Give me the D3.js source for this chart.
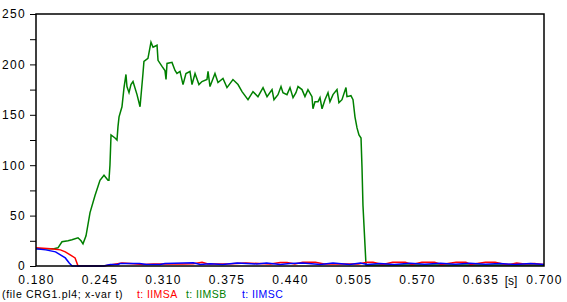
<!DOCTYPE html>
<html>
<head>
<meta charset="utf-8">
<script src="https://cdn.jsdelivr.net/npm/d3@7"></script>
<style>
  body { margin: 0; background: #fff; }
  svg { font-family: "Liberation Sans", Arial, sans-serif; }
</style>
</head>
<body>
<svg id="chart" width="567" height="302"></svg>
<script>
// x ticks (time, s) and y ticks
var xTicks = [0.180, 0.245, 0.310, 0.375, 0.440, 0.505, 0.570, 0.635, 0.700];
var yTicks = [0, 25, 50, 75, 100, 125, 150, 175, 200, 225, 250];
var yLabels = [0, 50, 100, 150, 200, 250];

// t: IIMSB (green)
var bTime = [0.1800, 0.1892, 0.1974, 0.2025, 0.2066, 0.2128, 0.2168, 0.2230, 0.2261, 0.2281,
  0.2312, 0.2353, 0.2404, 0.2455, 0.2496, 0.2537, 0.2547, 0.2557, 0.2568, 0.2609,
  0.2629, 0.2639, 0.2650, 0.2680, 0.2701, 0.2721, 0.2731, 0.2752, 0.2772, 0.2793,
  0.2834, 0.2865, 0.2895, 0.2905, 0.2946, 0.2977, 0.2998, 0.3039, 0.3049, 0.3090,
  0.3120, 0.3131, 0.3141, 0.3192, 0.3223, 0.3243, 0.3274, 0.3305, 0.3335, 0.3376,
  0.3397, 0.3428, 0.3468, 0.3499, 0.3550, 0.3561, 0.3581, 0.3632, 0.3663, 0.3714,
  0.3755, 0.3816, 0.3868, 0.3909, 0.3970, 0.4021, 0.4072, 0.4124, 0.4165, 0.4216,
  0.4236, 0.4277, 0.4308, 0.4328, 0.4369, 0.4400, 0.4431, 0.4461, 0.4482, 0.4523,
  0.4553, 0.4584, 0.4625, 0.4635, 0.4656, 0.4687, 0.4707, 0.4728, 0.4758, 0.4789,
  0.4809, 0.4840, 0.4881, 0.4901, 0.4932, 0.4973, 0.4983, 0.5024, 0.5045, 0.5065,
  0.5086, 0.5106, 0.5127, 0.5137, 0.5147, 0.5168, 0.5178, 0.5219, 0.7000];
var bValue = [17, 17, 17, 18, 24, 25, 26, 28, 25, 22,
  30, 53, 70, 85, 90, 85, 85, 100, 130, 127,
  125, 138, 148, 158, 177, 190, 178, 172, 180, 183,
  170, 158, 191, 203, 206, 222, 217, 219, 204, 198,
  194, 185, 201, 202, 194, 191, 193, 180, 191, 193,
  180, 191, 180, 183, 185, 193, 178, 191, 182, 186,
  177, 185, 180, 173, 165, 173, 168, 177, 168, 175,
  165, 170, 178, 172, 170, 177, 167, 172, 178, 175,
  168, 175, 168, 156, 163, 163, 167, 156, 165, 172,
  163, 170, 175, 162, 165, 177, 168, 169, 165, 148,
  137, 130, 127, 98, 60, 20, 1, 1, 1];

// t: IIMSA (red)
var aTime = [0.180, 0.195, 0.205, 0.210, 0.215, 0.220, 0.223, 0.249, 0.256, 0.268,
  0.276, 0.290, 0.300, 0.330, 0.341, 0.350, 0.356, 0.380, 0.395, 0.420,
  0.430, 0.437, 0.445, 0.453, 0.466, 0.475, 0.510, 0.519, 0.525, 0.535,
  0.545, 0.558, 0.565, 0.575, 0.588, 0.595, 0.610, 0.620, 0.625, 0.640,
  0.650, 0.658, 0.665, 0.672, 0.680, 0.690, 0.700];
var aValue = [18, 17, 16, 14, 11, 8, 0, 0, 1, 3,
  2.5, 1.5, 2, 2, 2.3, 3.7, 2, 2.2, 3, 2,
  3.5, 3.5, 2, 3.7, 3.7, 2, 2, 3.7, 3.7, 1.5,
  3.7, 3.7, 1.5, 3.7, 3.7, 1.5, 3.7, 3.7, 1.5, 3.7,
  3.7, 2, 1.5, 3, 2, 2.5, 1.5];

// t: IIMSC (blue)
var cTime = [0.180, 0.190, 0.200, 0.205, 0.210, 0.214, 0.217, 0.249, 0.256, 0.264,
  0.266, 0.286, 0.293, 0.307, 0.312, 0.341, 0.348, 0.358, 0.371, 0.386,
  0.406, 0.416, 0.430, 0.440, 0.453, 0.471, 0.484, 0.501, 0.512, 0.519,
  0.532, 0.547, 0.563, 0.578, 0.594, 0.609, 0.624, 0.640, 0.655, 0.670,
  0.686, 0.700];
var cValue = [17, 16, 14, 11, 8, 3, 0, 0, 1.5, 1.5,
  2.5, 2.5, 1.5, 1.5, 2.5, 3.2, 1.5, 2.2, 1.5, 3,
  2, 3, 1.5, 2.5, 3, 1.5, 3, 1.5, 3, 1.5,
  2.5, 1.5, 2.8, 1.8, 2.8, 1.8, 2.8, 1.8, 2.5, 1.5,
  2.5, 1.5];

var legendItems = ["t: IIMSA", "t: IIMSB", "t: IIMSC"];
var legendColours = ["#ff0000", "#008000", "#0000ff"];

var svg = d3.select("#chart");

var x = d3.scaleLinear().domain([0.18, 0.70]).range([36, 544]);
var y = d3.scaleLinear().domain([0, 250]).range([266, 14]);

function pairs(t, v) {
    return t.map(function (d, i) { return [d, v[i]]; });
}

var line = d3.line()
    .x(function (d) { return x(d[0]); })
    .y(function (d) { return y(d[1]); });

// y axis ticks and labels
var yAxis = svg.append("g")
    .attr("transform", "translate(36,0)")
    .call(d3.axisLeft(y).tickValues(yTicks).tickSize(6).tickPadding(4)
        .tickFormat(function (d) { return yLabels.indexOf(d) >= 0 ? d : ""; }));
yAxis.select(".domain").remove();
yAxis.selectAll("line").attr("stroke", "#000").attr("stroke-width", 1);
yAxis.selectAll("text")
    .style("font-size", "12px")
    .style("letter-spacing", "1.3px")
    .attr("fill", "#000");

// x axis labels (no tick marks)
var xAxis = svg.append("g")
    .attr("transform", "translate(0,266)")
    .call(d3.axisBottom(x).tickValues(xTicks).tickSize(0).tickPadding(9.5)
        .tickFormat(d3.format(".3f")));
xAxis.select(".domain").remove();
xAxis.selectAll("text")
    .style("font-size", "12px")
    .style("letter-spacing", "1.3px")
    .attr("fill", "#000");

svg.append("text")
    .attr("x", 511)
    .attr("y", 285)
    .attr("text-anchor", "middle")
    .style("font-size", "12px")
    .text("[s]");

// traces
var series = [pairs(bTime, bValue), pairs(aTime, aValue), pairs(cTime, cValue)];
var seriesColours = ["#008000", "#ff0000", "#0000ff"];

svg.append("g")
    .selectAll("path")
    .data(series)
    .enter().append("path")
    .attr("d", line)
    .attr("fill", "none")
    .attr("stroke", function (d, i) { return seriesColours[i]; })
    .attr("stroke-width", 1.5);

// frame
svg.append("rect")
    .attr("x", x(0.18))
    .attr("y", y(250))
    .attr("width", x(0.70) - x(0.18))
    .attr("height", y(0) - y(250))
    .attr("fill", "none")
    .attr("stroke", "#000")
    .attr("stroke-width", 1.5);

// legend line at the bottom
svg.append("text")
    .attr("x", 2)
    .attr("y", 298)
    .style("font-size", "10.5px")
    .style("letter-spacing", "0.7px")
    .text("(file CRG1.pl4; x-var t)");

var legendX = [137, 186, 242];
svg.selectAll(".legend")
    .data(legendItems)
    .enter().append("text")
    .attr("class", "legend")
    .attr("x", function (d, i) { return legendX[i]; })
    .attr("y", 298)
    .style("font-size", "10.5px")
    .style("letter-spacing", "0.4px")
    .attr("fill", function (d, i) { return legendColours[i]; })
    .text(function (d) { return d; });
</script>
</body>
</html>
